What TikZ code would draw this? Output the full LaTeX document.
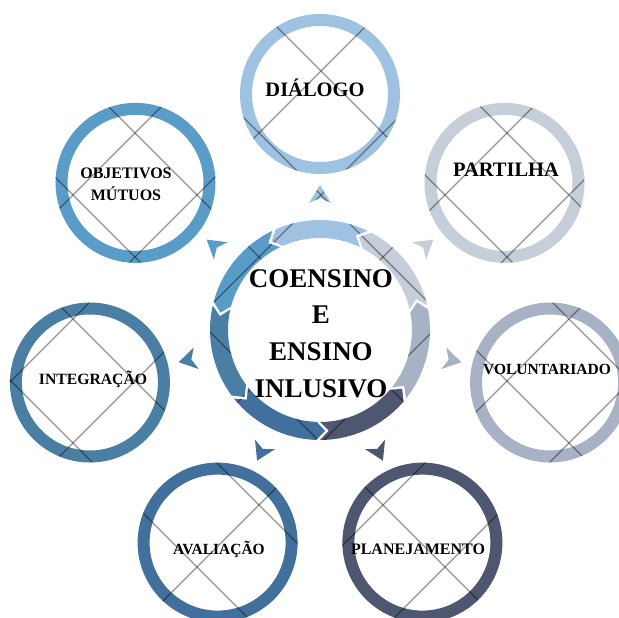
\documentclass[tikz,border=0pt]{standalone}
\usepackage{fontspec}
\setmainfont{Liberation Serif}
\usetikzlibrary{calc}
\definecolor{cDia}{HTML}{9FC2E2}
\definecolor{cPar}{HTML}{C6CEDA}
\definecolor{cVol}{HTML}{A7B3C5}
\definecolor{cPla}{HTML}{4E5670}
\definecolor{cAva}{HTML}{41709D}
\definecolor{cInt}{HTML}{4A7FA3}
\definecolor{cObj}{HTML}{5A9CC8}
\newcommand\segpath[1]{($(C)+({#1-25.7}:110)$) arc[start angle={#1-25.7}, end angle={#1+23.7}, radius=110] -- ($(C)+({#1+28.7}:101)$) -- ($(C)+({#1+23.7}:92)$) arc[start angle={#1+23.7}, end angle={#1-25.7}, radius=92] -- ($(C)+({#1-20.7}:101)$) -- cycle}
\newcommand\tripath[1]{($(C)+(#1:145)$) -- ($(C)+(#1:127)+({#1+90}:11)$) -- ($(C)+(#1:132)$) -- ($(C)+(#1:127)+({#1-90}:11)$) -- cycle}
\newcommand\drawlattice{%
  \foreach \b in {-642,-518,...,598} \draw[lattice] (-10,{-10+\b}) -- (640,{640+\b});
  \foreach \c in {0,124,...,1240} \draw[lattice] (-10,{10+\c}) -- (640,{-640+\c});}
\begin{document}
\begin{tikzpicture}[x=1pt,y=1pt,
  ring/.style={line width=12pt},
  lattice/.style={draw=black, opacity=0.42, line width=1.1pt},
  lbl/.style={anchor=base, inner sep=0pt}]
\useasboundingbox (0,0) rectangle (619,618);
\clip (0,0) rectangle (619,618);
\fill[white] (0,0) rectangle (619,618);
\coordinate (C) at (320,288);
\foreach \k/\n in {0/dia,1/par,2/vol,3/pla,4/ava,5/int,6/obj}{
  \coordinate (\n) at ($(C)+({90-\k*360/7}:236)$);
}
% outer rings
\foreach \n/\c in {dia/cDia,par/cPar,vol/cVol,pla/cPla,ava/cAva,int/cInt,obj/cObj}{
  \draw[ring, draw=\c] (\n) circle[radius=74];
}
\begin{scope}
  \clip (dia) circle[radius=80] (par) circle[radius=80] (vol) circle[radius=80]
        (pla) circle[radius=80] (ava) circle[radius=80] (int) circle[radius=80]
        (obj) circle[radius=80];
  \drawlattice
\end{scope}
% central segments and arrowheads
\foreach \k/\c in {0/cDia,1/cPar,2/cVol,3/cPla,4/cAva,5/cInt,6/cObj}{
  \pgfmathsetmacro\p{90-\k*360/7}
  \fill[\c] \segpath{\p};
  \fill[\c] \tripath{\p};
  \begin{scope}
    \clip \segpath{\p};
    \drawlattice
  \end{scope}
  \begin{scope}
    \clip \tripath{\p};
    \drawlattice
  \end{scope}
}
% labels
\node[font=\bfseries\fontsize{27}{36.7}\selectfont, align=center, inner sep=0pt] (ctr) at (321,284.5) {COENSINO\\E\\ENSINO\\INLUSIVO};
\node[lbl, font=\bfseries\fontsize{20.5}{24}\selectfont] (tdia) at (315,521) {DIÁLOGO};
\node[lbl, font=\bfseries\fontsize{20.5}{24}\selectfont] (tpar) at (506,441) {PARTILHA};
\node[lbl, font=\bfseries\fontsize{15.5}{19}\selectfont] (tvol) at (547,243) {VOLUNTARIADO};
\node[lbl, font=\bfseries\fontsize{16}{19}\selectfont] (tpla) at (418,63) {PLANEJAMENTO};
\node[lbl, font=\bfseries\fontsize{15.5}{19}\selectfont] (tava) at (219,63) {AVALIAÇÃO};
\node[lbl, font=\bfseries\fontsize{15.7}{19}\selectfont] (tint) at (93,233) {INTEGRAÇÃO};
\node[font=\bfseries\fontsize{16}{21.7}\selectfont, align=center, inner sep=0pt] (tobj) at (126,434) {OBJETIVOS\\MÚTUOS};
\end{tikzpicture}
\end{document}
